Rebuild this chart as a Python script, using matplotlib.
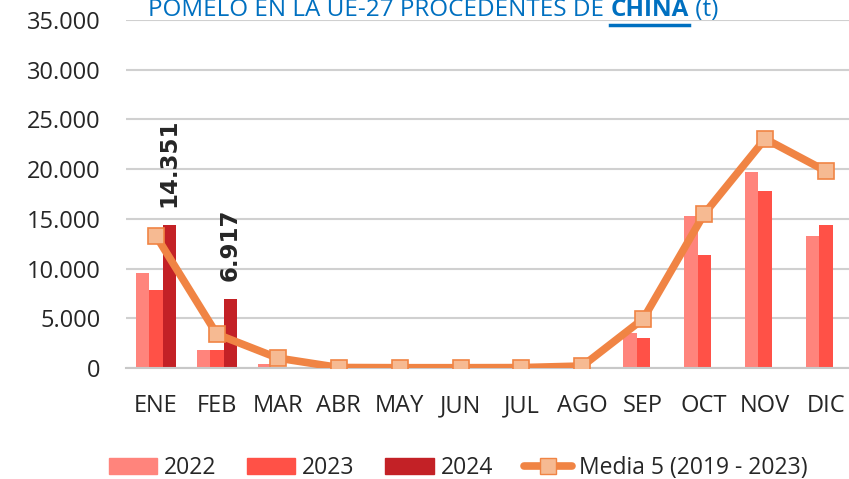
import numpy as np
import matplotlib.pyplot as plt
from matplotlib.lines import Line2D
from matplotlib.patches import Patch
from matplotlib.ticker import FuncFormatter

plt.rcParams['font.family'] = ['Open Sans', 'DejaVu Sans']

meses = ['ENE', 'FEB', 'MAR', 'ABR', 'MAY', 'JUN', 'JUL', 'AGO', 'SEP', 'OCT', 'NOV', 'DIC']
v2022 = [9600, 1800, 380, 0, 0, 0, 0, 0, 3500, 15250, 19700, 13300]
v2023 = [7850, 1800, 150, 0, 0, 0, 0, 0, 3000, 11350, 17800, 14350]
v2024 = [14351, 6917, 0, 0, 0, 0, 0, 0, 0, 0, 0, 0]
media = [13300, 3400, 1000, 50, 30, 30, 40, 200, 4950, 15500, 23050, 19800]

c22, c23, c24 = '#FF847C', '#FF5147', '#C32126'
c_line, c_mark = '#F08444', '#F6BA92'

fig = plt.figure(figsize=(8.49, 4.79), dpi=100)
ax = fig.add_axes([125.5 / 849, 111 / 479, 731 / 849, 348 / 479])

x = np.arange(len(meses))
w = 0.22
ax.bar(x - w, v2022, w, color=c22, zorder=2)
ax.bar(x, v2023, w, color=c23, zorder=2)
ax.bar(x + w, v2024, w, color=c24, zorder=2)
ax.plot(x, media, color=c_line, lw=5.5, marker='s', ms=11,
        mfc=c_mark, mec=c_line, mew=1.2, zorder=3, solid_capstyle='round')

# etiquetas de 2024
for i, v in enumerate(v2024):
    if v > 0:
        ax.text(x[i] + w, v + 1800, f'{v:,}'.replace(',', '.'), rotation=90,
                ha='center', va='bottom', fontsize=16.5, fontweight='bold',
                family='DejaVu Sans', color='#262626', zorder=4)

ax.set_xlim(-0.5, 11.5)
ax.set_ylim(0, 35000)
ax.set_yticks(range(0, 35001, 5000))
ax.yaxis.set_major_formatter(FuncFormatter(lambda v, p: f'{int(v):,}'.replace(',', '.')))
ax.set_xticks(x)
ax.set_xticklabels(meses)
ax.tick_params(axis='both', length=0, labelsize=17, colors='#262626')
ax.tick_params(axis='x', pad=19)
ax.tick_params(axis='y', pad=18)
ax.grid(axis='y', color='#D0D0D0', lw=1.5, zorder=0)
ax.set_axisbelow(True)
for s in ['top', 'right', 'left']:
    ax.spines[s].set_visible(False)
ax.spines['bottom'].set_color('#C8C8C8')
ax.spines['bottom'].set_linewidth(1.5)

# título en tres partes (CHINA en negrita y subrayado)
fig.canvas.draw()
r = fig.canvas.get_renderer()
ty = (479 - 16) / 479
tx = 148 / 849
partes = [('POMELO EN LA UE-27 PROCEDENTES DE ', 'normal'), ('CHINA', 'bold'), (' (t)', 'normal')]
for txt, fw in partes:
    t = fig.text(tx, ty, txt, fontsize=17.5, fontweight=fw, color='#0070C0',
                 va='baseline', ha='left')
    bb = t.get_window_extent(r)
    if fw == 'bold':
        fig.add_artist(Line2D([bb.x0 / 849, bb.x1 / 849], [(479 - 25) / 479] * 2,
                              color='#0070C0', lw=2.5))
    tx = bb.x1 / 849

handles = [Patch(color=c22), Patch(color=c23), Patch(color=c24),
           Line2D([], [], color=c_line, lw=5.5, marker='s', ms=11, mfc=c_mark,
                  mec=c_line, solid_capstyle='round')]
fig.legend(handles, ['2022', '2023', '2024', 'Media 5 (2019 - 2023)'],
           loc='center', bbox_to_anchor=(458 / 849, (479 - 468) / 479), ncol=4,
           frameon=False, fontsize=16.5, handlelength=2.1, handleheight=0.75,
           columnspacing=1.35, handletextpad=0.3, labelcolor='#262626')

fig.savefig('out.png', dpi=100)
